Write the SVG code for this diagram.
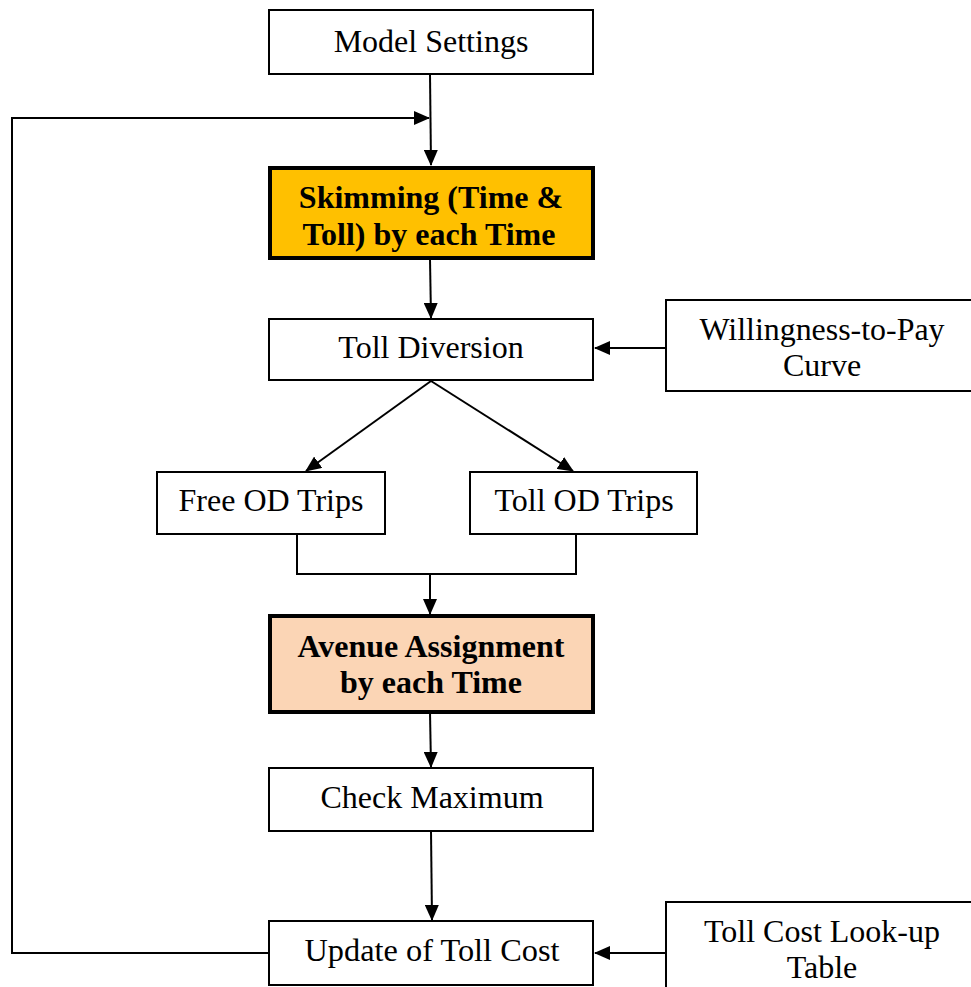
<svg xmlns="http://www.w3.org/2000/svg" width="971" height="987" viewBox="0 0 971 987">
<defs>
<marker id="arr" markerUnits="userSpaceOnUse" markerWidth="16" markerHeight="14" refX="15" refY="7" orient="auto">
<path d="M0,0 L16,7 L0,14 Z" fill="#000"/>
</marker>
<style>
.box{fill:#fff;stroke:#000;stroke-width:2}
.hl{stroke:#000;stroke-width:4}
.t{font-family:"Liberation Serif","Times New Roman",serif;font-size:32px;text-anchor:middle;fill:#000}
.b{font-weight:bold}
.c{fill:none;stroke:#000;stroke-width:2}
</style>
</defs>
<rect width="971" height="987" fill="#fff"/>
<g id="connectors">
<line class="c" x1="430" y1="74" x2="431" y2="165" marker-end="url(#arr)"/>
<polyline class="c" points="269,953 12,953 12,118 429,118" marker-end="url(#arr)"/>
<line class="c" x1="430" y1="259" x2="431" y2="318" marker-end="url(#arr)"/>
<line class="c" x1="666" y1="348" x2="595" y2="348" marker-end="url(#arr)"/>
<line class="c" x1="431" y1="381" x2="306" y2="471" marker-end="url(#arr)"/>
<line class="c" x1="431" y1="381" x2="573" y2="471" marker-end="url(#arr)"/>
<polyline class="c" points="297,534 297,574 576,574 576,534"/>
<line class="c" x1="430" y1="574" x2="430" y2="614" marker-end="url(#arr)"/>
<line class="c" x1="430" y1="712" x2="431" y2="767" marker-end="url(#arr)"/>
<line class="c" x1="431" y1="831" x2="432" y2="920" marker-end="url(#arr)"/>
<line class="c" x1="666" y1="953" x2="595" y2="953" marker-end="url(#arr)"/>
</g>
<g id="model-settings">
<rect class="box" x="269" y="10" width="324" height="64"/>
<text class="t" x="431" y="52">Model Settings</text>
</g>
<g id="skimming">
<rect class="hl" fill="#FFC000" x="270" y="168" width="323" height="90"/>
<text class="t b" x="431" y="208">Skimming (Time &amp;</text>
<text class="t b" x="429" y="245">Toll) by each Time</text>
</g>
<g id="toll-diversion">
<rect class="box" x="269" y="319" width="324" height="61"/>
<text class="t" x="431" y="358">Toll Diversion</text>
</g>
<g id="wtp-curve">
<rect class="box" x="666" y="300" width="310" height="91"/>
<text class="t" x="822" y="340" textLength="245" lengthAdjust="spacingAndGlyphs">Willingness-to-Pay</text>
<text class="t" x="822" y="376">Curve</text>
</g>
<g id="free-od">
<rect class="box" x="157" y="472" width="228" height="62"/>
<text class="t" x="271" y="511">Free OD Trips</text>
</g>
<g id="toll-od">
<rect class="box" x="470" y="472" width="227" height="62"/>
<text class="t" x="584" y="511">Toll OD Trips</text>
</g>
<g id="avenue-assignment">
<rect class="hl" fill="#FBD5B5" x="270" y="616" width="323" height="96"/>
<text class="t b" x="431" y="657">Avenue Assignment</text>
<text class="t b" x="431" y="693">by each Time</text>
</g>
<g id="check-maximum">
<rect class="box" x="269" y="768" width="324" height="63"/>
<text class="t" x="432" y="808">Check Maximum</text>
</g>
<g id="update-toll-cost">
<rect class="box" x="269" y="921" width="324" height="64"/>
<text class="t" x="432" y="961" textLength="255" lengthAdjust="spacingAndGlyphs">Update of Toll Cost</text>
</g>
<g id="toll-cost-table">
<rect class="box" x="666" y="902" width="310" height="95"/>
<text class="t" x="822" y="942">Toll Cost Look-up</text>
<text class="t" x="822" y="978">Table</text>
</g>
</svg>
